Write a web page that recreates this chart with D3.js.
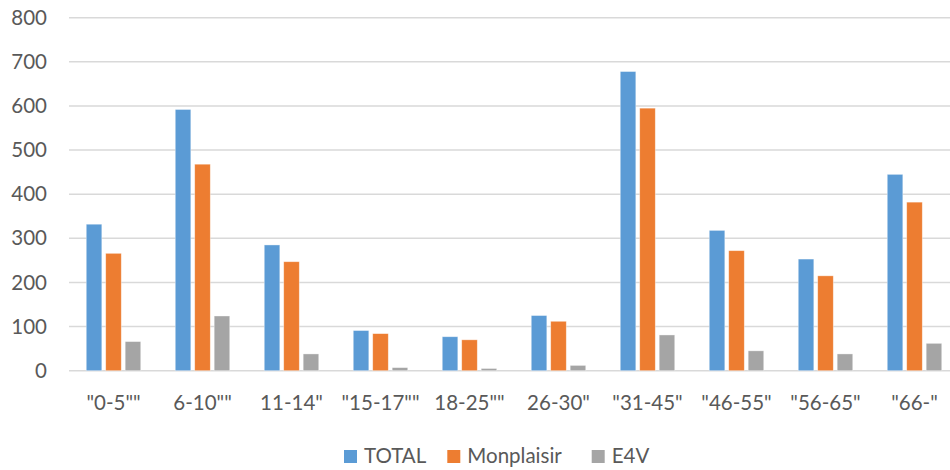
<!DOCTYPE html>
<html>
<head>
<meta charset="utf-8">
<script src="https://cdn.jsdelivr.net/npm/d3@7"></script>
<style>
  body { margin: 0; background: #fff; }
  svg text { font-family: Lato, "Open Sans", sans-serif; fill: #595959; }
</style>
</head>
<body>
<div id="chart"></div>
<script>
// ============================================================
// Data
// ============================================================
var categories = ['"0-5""', '6-10""', '11-14"', '"15-17""', '18-25""', '26-30"', '"31-45"', '"46-55"', '"56-65"', '"66-"'];
var seriesNames = ["TOTAL", "Monplaisir", "E4V"];
var totalValues = [332, 592, 285, 91, 77, 125, 678, 318, 253, 445];
var monplaisirValues = [266, 468, 247, 84, 70, 112, 595, 272, 215, 382];
var e4vValues = [66, 124, 38, 7, 5, 12, 81, 45, 38, 62];
var yTicks = [0, 100, 200, 300, 400, 500, 600, 700, 800];
var colors = ["#5B9BD5", "#ED7D31", "#A5A5A5"];

var seriesValues = [totalValues, monplaisirValues, e4vValues];

var width = 950, height = 470;
var svg = d3.select("#chart").append("svg")
    .attr("width", width)
    .attr("height", height);

// ============================================================
// Scales
// ============================================================
var x0 = d3.scaleBand()
    .domain(categories)
    .range([69, 959])
    .padding(0);

var x1 = d3.scaleBand()
    .domain(seriesNames)
    .range([17.25, 71.75])
    .paddingInner(0.2)
    .paddingOuter(0);

var y = d3.scaleLinear()
    .domain([0, 800])
    .range([370.7, 17.7]);

// gridlines
svg.append("g").selectAll("line")
    .data(yTicks)
    .enter()
    .append("line")
    .attr("x1", 69)
    .attr("x2", 960)
    .attr("y1", function (d) { return y(d); })
    .attr("y2", function (d) { return y(d); })
    .attr("stroke", "#D9D9D9")
    .attr("stroke-width", 1.5);

// y axis labels
var yAxis = d3.axisLeft(y).tickValues(yTicks).tickSize(0).tickPadding(0);
var yG = svg.append("g")
    .attr("transform", "translate(47,0)")
    .call(yAxis);
yG.select(".domain").remove();
yG.selectAll("text")
    .style("font-size", "20.5px")
    .attr("fill", "#595959");

// bars
var groups = svg.append("g").selectAll("g")
    .data(categories)
    .enter()
    .append("g")
    .attr("transform", function (d) { return "translate(" + x0(d) + ",0)"; });

groups.selectAll("rect")
    .data(function (d, i) {
        return seriesNames.map(function (s, j) {
            return { series: s, value: seriesValues[j][i], color: colors[j] };
        });
    })
    .enter()
    .append("rect")
    .attr("x", function (d) { return x1(d.series); })
    .attr("y", function (d) { return y(d.value); })
    .attr("width", x1.bandwidth())
    .attr("height", function (d) { return y(0) - y(d.value); })
    .attr("fill", function (d) { return d.color; })
    .attr("stroke", "#fff")
    .attr("stroke-opacity", 0.5)
    .attr("stroke-width", 0.75);

// x axis labels
var xAxis = d3.axisBottom(x0).tickSize(0).tickPadding(0);
var xG = svg.append("g")
    .attr("transform", "translate(0,395)")
    .call(xAxis);
xG.select(".domain").remove();
xG.selectAll("text")
    .attr("dy", "0.72em")
    .style("font-size", "20.5px")
    .attr("fill", "#595959");

// ============================================================
// Legend
// ============================================================
var legendX = [344, 447.3, 591.7];
var legend = svg.append("g").selectAll("g")
    .data(seriesNames)
    .enter()
    .append("g")
    .attr("transform", function (d, i) { return "translate(" + legendX[i] + ",450)"; });

legend.append("rect")
    .attr("width", 13)
    .attr("height", 13)
    .attr("fill", function (d, i) { return colors[i]; });

legend.append("text")
    .attr("x", 20)
    .attr("y", 13)
    .style("font-size", "20.5px")
    .text(function (d) { return d; });
</script>
</body>
</html>
